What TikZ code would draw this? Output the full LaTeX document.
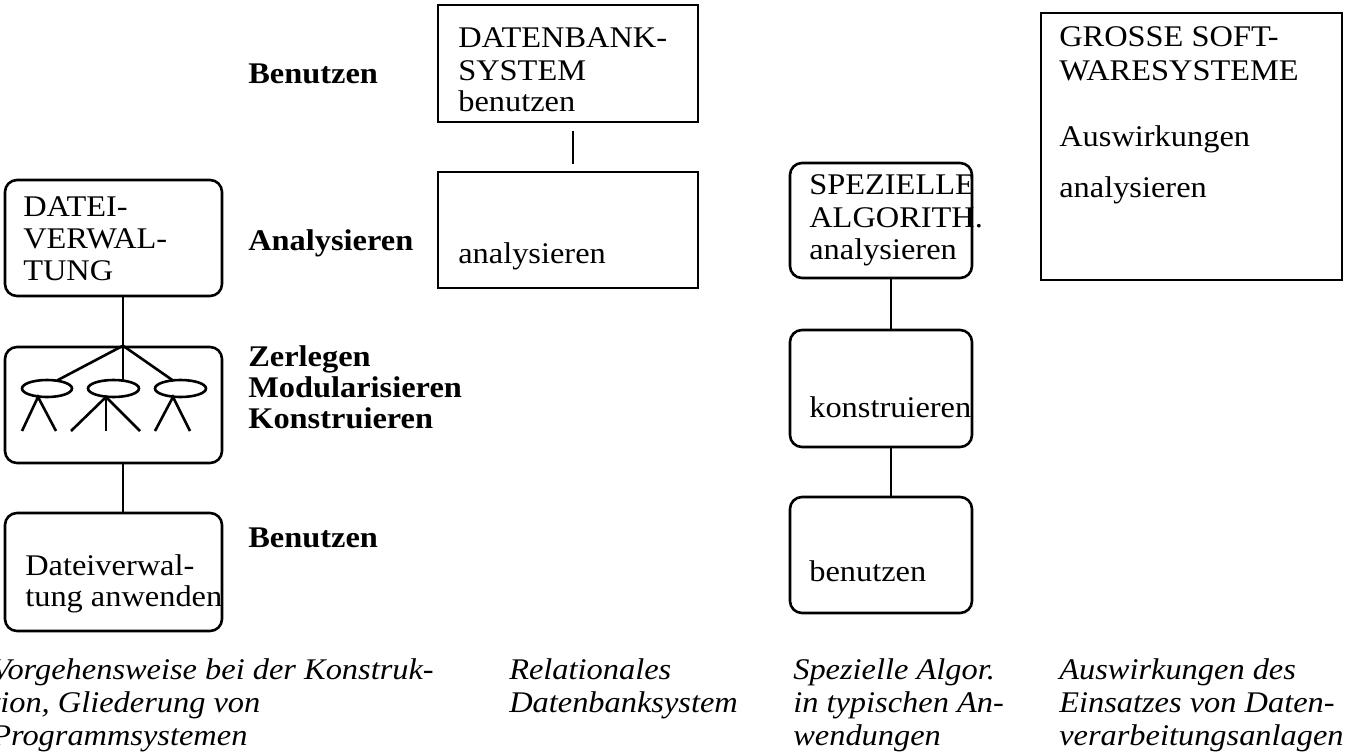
\documentclass[tikz,border=0pt]{standalone}
\usepackage{fontspec}
\usetikzlibrary{shapes.geometric}
\setmainfont{Liberation Serif}[FakeStretch=1.08]
\begin{document}
\begin{tikzpicture}[x=1pt,y=-1pt,
  line width=2.6pt,
  rbox/.style={draw, rounded corners=12pt, inner sep=0pt},
  sbox/.style={draw, inner sep=0pt},
  oval/.style={draw, ellipse, minimum height=17pt, inner sep=0pt},
  txt/.style={anchor=base west, inner sep=0pt, font=\fontsize{30}{32}\selectfont},
  btxt/.style={txt, font=\fontsize{30}{32}\selectfont\bfseries},
  itxt/.style={txt, font=\fontsize{30}{32}\selectfont\itshape},
  conn/.style={line width=2.6pt}]
\useasboundingbox (0,0) rectangle (1351,754);

% ---- left column boxes
\node[rbox, minimum width=217pt, minimum height=116pt] (DV) at (113.5,238) {};
\node[rbox, minimum width=217pt, minimum height=116pt] (ZM) at (113.5,405) {};
\node[rbox, minimum width=217pt, minimum height=118pt] (DA) at (113.5,572) {};
\draw[conn] ([xshift=9.5pt]DV.south) -- ([xshift=9.5pt]ZM.north);
\draw[conn] ([xshift=9.5pt]ZM.south) -- ([xshift=9.5pt]DA.north);

% tree inside ZM
\coordinate (root) at ([xshift=9.5pt]ZM.north);
\node[oval, minimum width=50pt] (e1) at (47,388.5) {};
\node[oval, minimum width=51pt] (e2) at (113.5,388.5) {};
\node[oval, minimum width=51pt] (e3) at (180.5,388.5) {};
\draw (root) -- (57,380.5);
\draw (root) -- (123,380);
\draw (root) -- (173,380.5);
\draw (22,431) -- (38,397) -- (56,431);
\draw (71,431) -- (106,397) -- (140,431);
\draw (106,397) -- (106,431);
\draw (155,431) -- (173,397) -- (190,431);

\node[txt] (t1) at (22,216) {DATEI-};
\node[txt] (t2) at (22,248) {VERWAL-};
\node[txt] (t3) at (22,280) {TUNG};
\node[txt] (t4) at (24,575) {Dateiverwal-};
\node[txt] (t5) at (24,606) {tung anwenden};

% bold labels
\node[btxt] (b1) at (247,84) {Benutzen};
\node[btxt] (b2) at (247,250) {Analysieren};
\node[btxt] (b3) at (247,366) {Zerlegen};
\node[btxt] (b4) at (247,397) {Modularisieren};
\node[btxt] (b5) at (247,428) {Konstruieren};
\node[btxt] (b6) at (247,547) {Benutzen};

% ---- middle column
\node[sbox, minimum width=260pt, minimum height=117pt] (DB) at (568,63.5) {};
\node[sbox, minimum width=260pt, minimum height=116pt] (AN) at (568,230) {};
\draw[conn, shorten <=8pt, shorten >=7pt] ([xshift=5pt]DB.south) -- ([xshift=5pt]AN.north);
\node[txt] (m1) at (457,48) {DATENBANK-};
\node[txt] (m2) at (457,81) {SYSTEM};
\node[txt] (m3) at (457,112) {benutzen};
\node[txt] (m4) at (457,263) {analysieren};

% ---- third column
\node[rbox, minimum width=182pt, minimum height=115pt] (SA) at (881,220.5) {};
\node[rbox, minimum width=182pt, minimum height=117pt] (KO) at (881,388.5) {};
\node[rbox, minimum width=182pt, minimum height=116pt] (BE) at (881,555) {};
\draw[conn] ([xshift=10pt]SA.south) -- ([xshift=10pt]KO.north);
\draw[conn] ([xshift=10pt]KO.south) -- ([xshift=10pt]BE.north);
\node[txt] (s1) at (808,195) {SPEZIELLE};
\node[txt] (s2) at (808,227) {ALGORITH.};
\node[txt] (s3) at (808,259) {analysieren};
\node[txt] (s4) at (808,417) {konstruieren};
\node[txt] (s5) at (808,581) {benutzen};

% ---- right box
\node[sbox, minimum width=301pt, minimum height=267pt] (GS) at (1191.5,146.5) {};
\node[txt] (g1) at (1058,47) {GROSSE SOFT-};
\node[txt] (g2) at (1058,81) {WARESYSTEME};
\node[txt] (g3) at (1058,147) {Auswirkungen};
\node[txt] (g4) at (1058,197) {analysieren};

% ---- captions
\node[itxt] (c1) at (-10,679) {Vorgehensweise bei der Konstruk-};
\node[itxt] (c2) at (-10,712) {tion, Gliederung von};
\node[itxt] (c3) at (-10,745) {Programmsystemen};
\node[itxt] (c4) at (508,679) {Relationales};
\node[itxt] (c5) at (508,712) {Datenbanksystem};
\node[itxt] (c6) at (792,679) {Spezielle Algor.};
\node[itxt] (c7) at (792,712) {in typischen An-};
\node[itxt] (c8) at (792,745) {wendungen};
\node[itxt] (c9) at (1058,679) {Auswirkungen des};
\node[itxt] (c10) at (1058,712) {Einsatzes von Daten-};
\node[itxt] (c11) at (1058,745) {verarbeitungsanlagen};
\end{tikzpicture}
\end{document}
